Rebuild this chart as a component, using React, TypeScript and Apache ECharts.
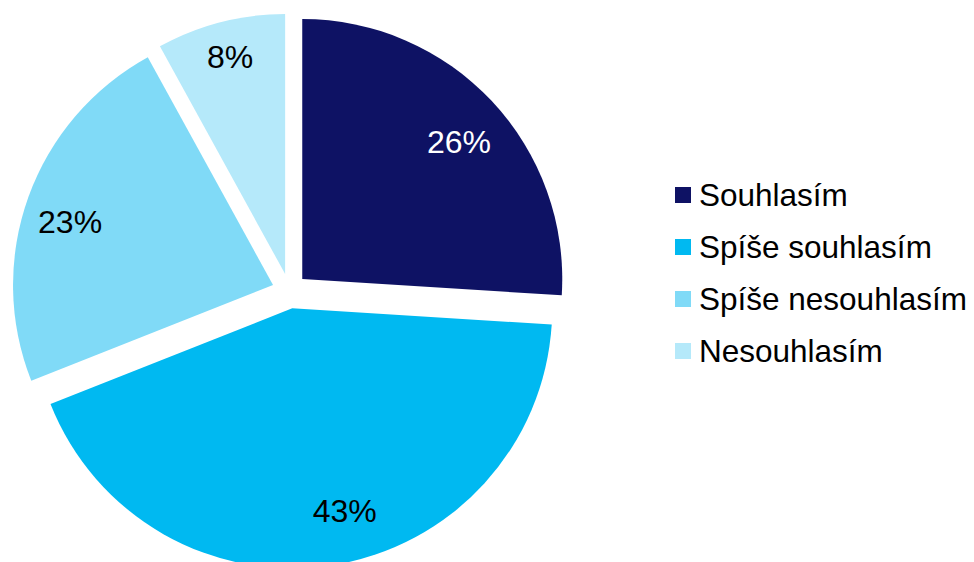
import React, { useEffect, useRef } from "react";
import * as echarts from "echarts";

const categories = ["Souhlasím", "Spíše souhlasím", "Spíše nesouhlasím", "Nesouhlasím"];
const values = [26, 43, 23, 8];
const colors = ["#0E1264", "#00B9F1", "#80DAF7", "#B5E9FA"];
const labelColors = ["#FFFFFF", "#000000", "#000000", "#000000"];
const labelNudges = [[1, 9], [19, -8], [-2, 9], [-2, -10]];

const FONT = "'Liberation Sans', Arial, sans-serif";
const R = 260;
const CENTER = [289.5, 291];
const OFFSET = 17.5;

export default function App() {
  const ref = useRef<HTMLDivElement>(null);
  useEffect(() => {
    if (!ref.current) return;
    const chart = echarts.init(ref.current, undefined, { renderer: "svg" });
    const baseData = categories.map((name, i) => ({
      name,
      value: values[i],
      selected: true,
      itemStyle: { color: colors[i] },
      select: { itemStyle: { color: colors[i] } },
    }));
    const labelData = categories.map((name, i) => ({
      name,
      value: values[i],
      selected: true,
      itemStyle: { color: "transparent" },
      select: { itemStyle: { color: "transparent" } },
      label: { color: labelColors[i] },
    }));
    chart.setOption({
      animation: false,
      backgroundColor: "#FFFFFF",
      legend: {
        orient: "vertical",
        left: 670,
        top: 174,
        icon: "rect",
        itemWidth: 16,
        itemHeight: 16,
        itemGap: 20,
        selectedMode: false,
        data: categories,
        textStyle: {
          fontFamily: FONT,
          fontSize: 31.5,
          lineHeight: 32,
          color: "#000000",
          padding: [0, 0, 0, 3],
        },
      },
      series: [
        {
          type: "pie",
          center: CENTER,
          radius: [0, R],
          startAngle: 90,
          clockwise: true,
          selectedMode: "multiple",
          selectedOffset: OFFSET,
          label: { show: false },
          labelLine: { show: false },
          emphasis: { disabled: true, scale: false },
          data: baseData,
        },
        {
          type: "pie",
          center: CENTER,
          radius: [R * 0.62, R],
          startAngle: 90,
          clockwise: true,
          selectedMode: "multiple",
          selectedOffset: OFFSET,
          silent: true,
          legendHoverLink: false,
          emphasis: { disabled: true, scale: false },
          label: {
            show: true,
            position: "inside",
            formatter: "{c}%",
            fontFamily: FONT,
            fontSize: 32,
          },
          labelLayout: (params: any) => {
            const n = labelNudges[params.dataIndex] || [0, 0];
            return { dx: n[0], dy: n[1] };
          },
          labelLine: { show: false },
          data: labelData,
        },
      ],
    });
    return () => chart.dispose();
  }, []);
  return (
    <div
      ref={ref}
      style={{ position: "fixed", left: 0, top: 0, width: 974, height: 562 }}
    />
  );
}
